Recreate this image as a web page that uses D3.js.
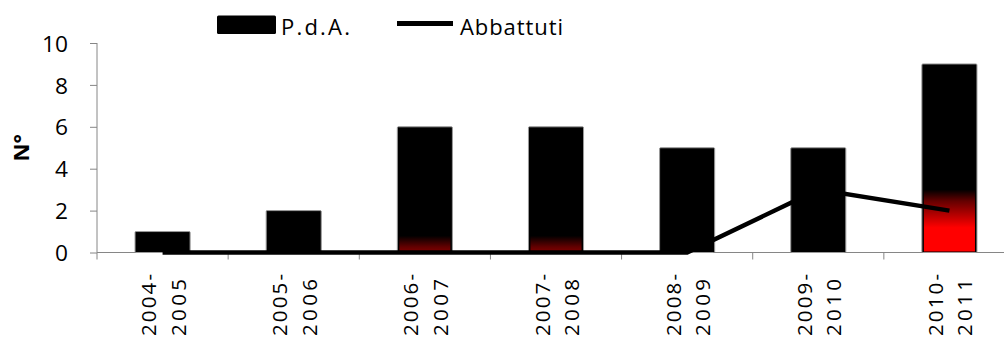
<!DOCTYPE html>
<html>
<head>
<meta charset="utf-8">
<script src="https://cdn.jsdelivr.net/npm/d3@7"></script>
<style>
  html, body { margin: 0; padding: 0; background: #fff; }
  svg { display: block; }
  text { font-family: "Open Sans", "Noto Sans", sans-serif; fill: #000; }
</style>
</head>
<body>
<svg id="chart" width="1004" height="338"></svg>
<script>
// Stagioni
const categories = ["2004-2005", "2005-2006", "2006-2007", "2007-2008", "2008-2009", "2009-2010", "2010-2011"];
// P.d.A. (barre)
const pdaValues = [1, 2, 6, 6, 5, 5, 9];
// Fascia rossa alla base delle barre
const redBandValues = [0, 0, 0.8, 0.8, 0, 0, 3];
// Abbattuti (linea)
const abbattutiValues = [0, 0, 0, 0, 0, 3, 2];
const yTicks = [0, 2, 4, 6, 8, 10];

const svg = d3.select("#chart");
const plotLeft = 97, plotRight = 1015, plotTop = 43, plotBottom = 252.5;
const fontFamily = '"Open Sans", "Noto Sans", sans-serif';

const x = d3.scaleBand().domain(categories).range([plotLeft, plotRight]).paddingInner(0.58).paddingOuter(0.29);
const xc = d3.scaleBand().domain(categories).range([plotLeft, plotRight]);
const y = d3.scaleLinear().domain([0, 10]).range([plotBottom, plotTop]);

const axisColor = "#868686";
const defs = svg.append("defs");

// Y axis
const yAxis = svg.append("g").attr("transform", `translate(${plotLeft},0)`)
  .call(d3.axisLeft(y).tickValues(yTicks).tickSize(7).tickPadding(22).tickFormat(d3.format("d")));
yAxis.select(".domain").attr("stroke", axisColor).attr("d", `M0,${plotTop}V${plotBottom}`);
yAxis.selectAll(".tick line").attr("stroke", axisColor);
yAxis.selectAll(".tick text")
  .attr("font-size", 22.5).attr("font-family", fontFamily).attr("dy", "0.36em")
  .attr("text-anchor", "end")
  .attr("textLength", d => String(d).length * 13)
  .attr("lengthAdjust", "spacingAndGlyphs");

// X axis line and category boundary ticks
svg.append("line").attr("x1", plotLeft).attr("x2", plotRight).attr("y1", plotBottom).attr("y2", plotBottom)
  .attr("stroke", axisColor).attr("stroke-width", 1);
categories.forEach(c => {
  svg.append("line").attr("x1", xc(c)).attr("x2", xc(c)).attr("y1", plotBottom).attr("y2", plotBottom + 7)
    .attr("stroke", axisColor);
});

// X labels, two lines each, rotated
const xl = svg.append("g");
categories.forEach(c => {
  const parts = c.split("-");
  const lines = [parts[0] + "-", parts[1]];
  const lens = [62, 57];
  const cx = x(c) + x.bandwidth() / 2;
  const offs = [-6.5, 23];
  lines.forEach((t, i) => {
    xl.append("text")
      .attr("transform", `translate(${cx + offs[i]},336) rotate(-90)`)
      .attr("font-size", 20.5)
      .attr("textLength", lens[i]).attr("lengthAdjust", "spacing")
      .text(t);
  });
});

// Bars
const bars = svg.append("g");
categories.forEach((c, i) => {
  bars.append("rect")
    .attr("x", x(c)).attr("y", y(pdaValues[i]))
    .attr("width", x.bandwidth()).attr("height", y(0) - y(pdaValues[i]))
    .attr("fill", "#000").attr("stroke", "#9a9a9a").attr("stroke-width", 1)
    .attr("rx", 1);
  if (redBandValues[i] > 0) {
    const yt = y(redBandValues[i]);
    const id = "grad" + i;
    const g = defs.append("linearGradient").attr("id", id)
      .attr("gradientUnits", "userSpaceOnUse")
      .attr("x1", 0).attr("x2", 0).attr("y1", yt).attr("y2", yt + 38);
    g.append("stop").attr("offset", 0).attr("stop-color", "#000");
    g.append("stop").attr("offset", 0.3).attr("stop-color", "#640000");
    g.append("stop").attr("offset", 1).attr("stop-color", "#ff0000");
    bars.append("rect")
      .attr("x", x(c) + 2).attr("y", yt)
      .attr("width", x.bandwidth() - 4).attr("height", y(0) - yt - 1)
      .attr("fill", `url(#${id})`);
  }
});

// Abbattuti line
const line = d3.line().x((d, i) => x(categories[i]) + x.bandwidth() / 2).y(d => y(d));
svg.append("path").datum(abbattutiValues).attr("d", line)
  .attr("fill", "none").attr("stroke", "#000").attr("stroke-width", 4.5);

// Y axis title
svg.append("text").attr("transform", `translate(29,${(plotTop + plotBottom) / 2}) rotate(-90)`)
  .attr("text-anchor", "middle").attr("font-size", 22).attr("font-weight", "bold").text("N°");

// Legend
const lg = svg.append("g");
lg.append("rect").attr("x", 217).attr("y", 15.5).attr("width", 59).attr("height", 18.5).attr("rx", 1.5).attr("fill", "#000");
lg.append("text").attr("x", 281).attr("y", 35).attr("font-size", 22)
  .attr("textLength", 69).attr("lengthAdjust", "spacing").text("P.d.A.");
lg.append("line").attr("x1", 397).attr("x2", 453).attr("y1", 23.5).attr("y2", 23.5).attr("stroke", "#000").attr("stroke-width", 5);
lg.append("text").attr("x", 460).attr("y", 35).attr("font-size", 22)
  .attr("textLength", 103).attr("lengthAdjust", "spacing").text("Abbattuti");
</script>
</body>
</html>
